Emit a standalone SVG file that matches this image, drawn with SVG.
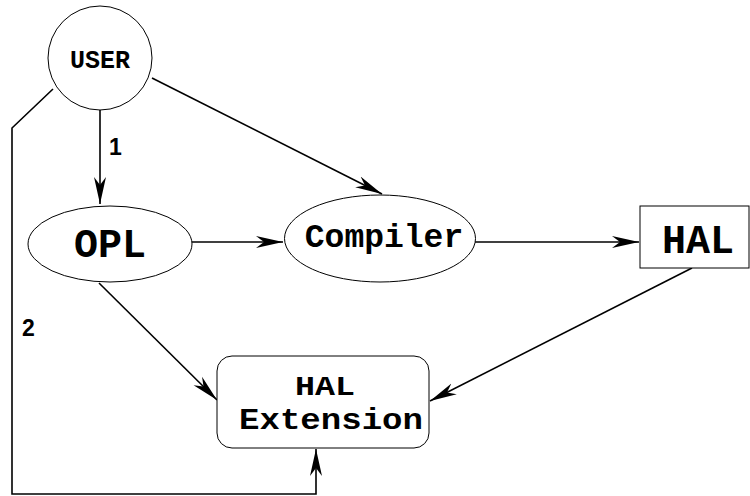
<svg xmlns="http://www.w3.org/2000/svg" width="750" height="496" viewBox="0 0 750 496">
<style>
.node{fill:#fff;stroke:#000;stroke-width:1}
.lbl{font-family:"Liberation Mono","Courier New",monospace;font-weight:bold;text-anchor:middle;fill:#000}
.edge{fill:none;stroke:#000;stroke-width:1.6}
.num{font-family:"Liberation Sans",Arial,sans-serif;font-weight:bold;font-size:23px;fill:#000}
</style>
<defs>
<marker id="ah" markerUnits="userSpaceOnUse" markerWidth="30" markerHeight="14" viewBox="0 -7 30 14" refX="27" refY="0" orient="auto">
<path d="M0,-6 L27,0 L0,6 L8,0 z" fill="#000"/>
</marker>
</defs>
<rect width="750" height="496" fill="#fff"/>
<g id="connectors">
<path class="edge" d="M100,109 L100,204" marker-end="url(#ah)"/>
<path class="edge" d="M152,78 L382,194" marker-end="url(#ah)"/>
<path class="edge" d="M192,242 L283,242" marker-end="url(#ah)"/>
<path class="edge" d="M475,242 L639,242" marker-end="url(#ah)"/>
<path class="edge" d="M99,283 L217,400" marker-end="url(#ah)"/>
<path class="edge" d="M692,268 L430,401" marker-end="url(#ah)"/>
<path class="edge" d="M53,89 L12,128 L12,494 L316,494 L316,449" marker-end="url(#ah)"/>
<text class="num" x="109" y="155">1</text>
<text class="num" x="22" y="336">2</text>
</g>
<g id="user">
<circle class="node" cx="100" cy="58" r="52"/>
<text class="lbl" x="100" y="68" font-size="25">USER</text>
</g>
<g id="opl">
<ellipse class="node" cx="110" cy="244" rx="82" ry="38"/>
<text class="lbl" x="110" y="257" font-size="40">OPL</text>
</g>
<g id="compiler">
<ellipse class="node" cx="380" cy="238.5" rx="95.5" ry="43.5"/>
<text class="lbl" x="384" y="247" font-size="33">Compiler</text>
</g>
<g id="hal">
<rect class="node" x="640" y="206" width="109" height="62"/>
<text class="lbl" x="698" y="253" font-size="40">HAL</text>
</g>
<g id="hal-extension">
<rect class="node" x="217" y="356" width="212" height="92" rx="15" ry="15"/>
<text class="lbl" x="325" y="395" font-size="28" textLength="60" lengthAdjust="spacingAndGlyphs">HAL</text>
<text class="lbl" x="331" y="429" font-size="30" textLength="184" lengthAdjust="spacingAndGlyphs">Extension</text>
</g>
</svg>
